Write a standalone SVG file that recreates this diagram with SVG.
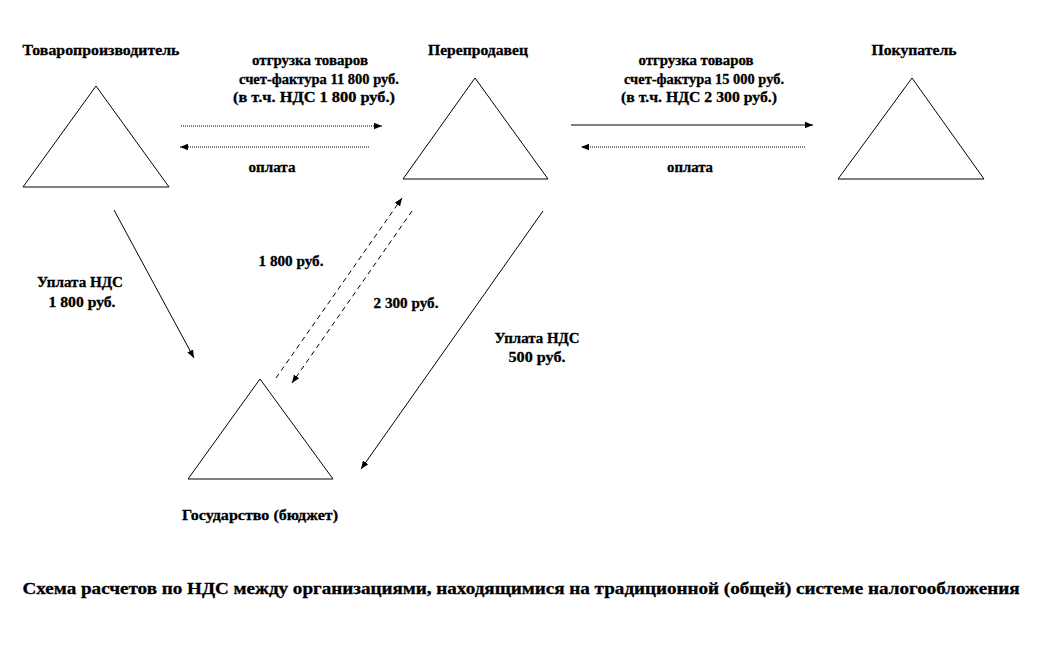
<svg xmlns="http://www.w3.org/2000/svg" width="1039" height="650" viewBox="0 0 1039 650">
<style>
text{font-family:"Liberation Serif","Times New Roman",serif;font-weight:bold;font-size:15px;fill:#000;text-anchor:middle;stroke:#000;stroke-width:0.3}
.tri{fill:none;stroke:#000;stroke-width:1}
.ln{fill:none;stroke:#000;stroke-width:1}
.dot{stroke-dasharray:1 1}
.dash{stroke-dasharray:5 4}
</style>
<defs>
<marker id="ah" viewBox="0 0 10 10" refX="10" refY="5" markerWidth="8" markerHeight="8" markerUnits="userSpaceOnUse" orient="auto">
<path d="M0,1 L10,5 L0,9 Z" fill="#000"/>
</marker>
</defs>
<rect width="1039" height="650" fill="#fff"/>
<g id="producer">
<polygon class="tri" points="96,86 23,187 169,187"/>
<text x="101" y="55" textLength="157" lengthAdjust="spacingAndGlyphs">Товаропроизводитель</text>
</g>
<g id="reseller">
<polygon class="tri" points="475,78 403,179 548,179"/>
<text x="478" y="55" textLength="100" lengthAdjust="spacingAndGlyphs">Перепродавец</text>
</g>
<g id="buyer">
<polygon class="tri" points="912,78 838,179 984,179"/>
<text x="914" y="55" textLength="85" lengthAdjust="spacingAndGlyphs">Покупатель</text>
</g>
<g id="state">
<polygon class="tri" points="260,379 188,479 333,479"/>
<text x="260" y="520" textLength="156" lengthAdjust="spacingAndGlyphs">Государство (бюджет)</text>
</g>
<g id="connectors">
<line class="ln dot" x1="181" y1="126" x2="382" y2="126" marker-end="url(#ah)"/>
<line class="ln dot" x1="369" y1="147" x2="180" y2="147" marker-end="url(#ah)"/>
<line class="ln" x1="571" y1="125" x2="813" y2="125" marker-end="url(#ah)"/>
<line class="ln dot" x1="805" y1="147" x2="581" y2="147" marker-end="url(#ah)"/>
<line class="ln" x1="114" y1="210" x2="194" y2="358" marker-end="url(#ah)"/>
<line class="ln dash" x1="276" y1="378" x2="402" y2="198" marker-end="url(#ah)"/>
<line class="ln dash" x1="412" y1="211" x2="292" y2="383" marker-end="url(#ah)"/>
<line class="ln" x1="543" y1="211" x2="361" y2="469" marker-end="url(#ah)"/>
</g>
<g id="labels">
<text x="310" y="65" textLength="116" lengthAdjust="spacingAndGlyphs">отгрузка  товаров</text>
<text x="319" y="84" textLength="160" lengthAdjust="spacingAndGlyphs">счет-фактура  11 800 руб.</text>
<text x="314" y="102" textLength="162" lengthAdjust="spacingAndGlyphs">(в т.ч. НДС 1 800 руб.)</text>
<text x="272" y="172" textLength="47" lengthAdjust="spacingAndGlyphs">оплата</text>
<text x="696" y="65" textLength="115" lengthAdjust="spacingAndGlyphs">отгрузка  товаров</text>
<text x="704" y="84" textLength="160" lengthAdjust="spacingAndGlyphs">счет-фактура  15 000 руб.</text>
<text x="699" y="102" textLength="156" lengthAdjust="spacingAndGlyphs">(в т.ч. НДС 2 300 руб.)</text>
<text x="690" y="172" textLength="46" lengthAdjust="spacingAndGlyphs">оплата</text>
<text x="80" y="287" textLength="86" lengthAdjust="spacingAndGlyphs">Уплата НДС</text>
<text x="82" y="307" textLength="67" lengthAdjust="spacingAndGlyphs">1 800 руб.</text>
<text x="291" y="266" textLength="65" lengthAdjust="spacingAndGlyphs">1 800 руб.</text>
<text x="406" y="308" textLength="65" lengthAdjust="spacingAndGlyphs">2 300 руб.</text>
<text x="537" y="343" textLength="85" lengthAdjust="spacingAndGlyphs">Уплата НДС</text>
<text x="537" y="362" textLength="57" lengthAdjust="spacingAndGlyphs">500 руб.</text>
</g>
<text id="title" x="521" y="594" style="font-size:16px" textLength="997" lengthAdjust="spacingAndGlyphs">Схема расчетов по НДС между организациями, находящимися на традиционной (общей) системе налогообложения</text>
</svg>
